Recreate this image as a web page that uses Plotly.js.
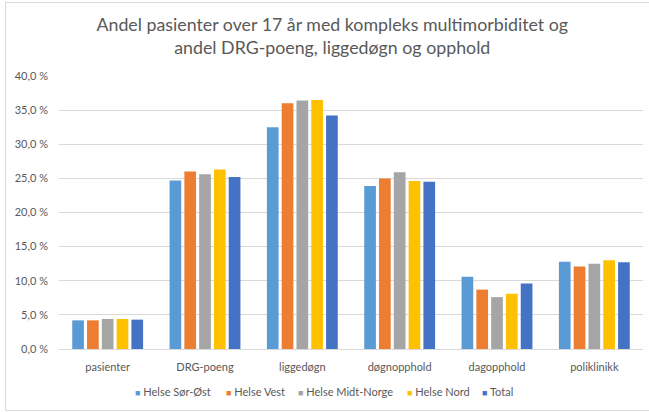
<!DOCTYPE html>
<html>
<head>
<meta charset="utf-8">
<script src="https://cdn.plot.ly/plotly-3.0.1.min.js"></script>
<style>
  html, body { margin: 0; padding: 0; background: #ffffff; }
  #wrap { position: relative; width: 649px; height: 412px; overflow: hidden; }
  #chart { position: absolute; left: 0; top: 0; width: 649px; height: 412px; }
  #frame { position: absolute; left: 5px; top: 2px; width: 700px; height: 407px;
           border: 1px solid #d9d9d9; pointer-events: none; }
</style>
</head>
<body>
<div id="wrap">
  <div id="chart"></div>
  <div id="frame"></div>
</div>
<script>
// ---- data ----
const categories = ["pasienter", "DRG-poeng", "liggedøgn", "døgnopphold", "dagopphold", "poliklinikk"];
const seriesNames = ["Helse Sør-Øst", "Helse Vest", "Helse Midt-Norge", "Helse Nord", "Total"];
const helseSorOst    = [4.2, 24.7, 32.5, 23.9, 10.6, 12.8];
const helseVest      = [4.2, 26.0, 36.0, 25.0, 8.7, 12.1];
const helseMidtNorge = [4.4, 25.6, 36.4, 25.9, 7.6, 12.5];
const helseNord      = [4.4, 26.3, 36.5, 24.6, 8.1, 13.0];
const total          = [4.3, 25.2, 34.2, 24.5, 9.6, 12.7];
const yTicks = [0, 5, 10, 15, 20, 25, 30, 35, 40];
const yTickText = yTicks.map(v => v.toFixed(1).replace(".", ",") + " %");

// ---- styles ----
const colors = ["#5B9BD5", "#ED7D31", "#A5A5A5", "#FFC000", "#4472C4"];
const seriesValues = [helseSorOst, helseVest, helseMidtNorge, helseNord, total];
const fontFamily = "Lato, 'Open Sans', sans-serif";
const textColor = "#595959";

const traces = seriesValues.map((vals, i) => ({
  type: "bar",
  name: seriesNames[i],
  x: categories,
  y: vals,
  marker: { color: colors[i], line: { width: 0 } },
  showlegend: false,
  hoverinfo: "x+y+name"
}));

// legend drawn as text annotations (Excel-style compact legend)
const plotL = 59, plotR = 643, plotW = plotR - plotL;
const legendStartPx = [133, 224, 296, 405, 480];
const legendAnnotations = seriesNames.map((name, i) => ({
  xref: "paper", yref: "paper",
  x: (legendStartPx[i] - plotL) / plotW,
  y: -0.155,
  xanchor: "left", yanchor: "middle",
  showarrow: false,
  text: '<span style="color:' + colors[i] + ';font-size:9px">■</span> ' + name,
  font: { family: fontFamily, size: 11, color: textColor }
}));

const layout = {
  width: 649, height: 412,
  margin: { l: plotL, r: 649 - plotR, t: 76, b: 63, pad: 0 },
  paper_bgcolor: "#ffffff",
  plot_bgcolor: "#ffffff",
  separators: ", ",
  font: { family: fontFamily, size: 11, color: textColor },
  title: {
    text: "Andel pasienter over 17 år med kompleks multimorbiditet og<br>andel DRG-poeng, liggedøgn og opphold",
    font: { family: fontFamily, size: 17.8, color: textColor },
    x: 0.512, xanchor: "center", xref: "container",
    y: 0.925, yanchor: "middle", yref: "container"
  },
  barmode: "group",
  bargap: 0.24,
  bargroupgap: 0.21,
  xaxis: {
    type: "category",
    showgrid: false,
    showline: true,
    linecolor: "#d9d9d9",
    linewidth: 1,
    ticks: "",
    tickfont: { family: fontFamily, size: 11, color: textColor },
    ticklabelstandoff: 8,
    zeroline: false
  },
  yaxis: {
    range: [0, 40],
    tickmode: "array",
    tickvals: yTicks,
    ticktext: yTickText,
    showgrid: true,
    gridcolor: "#d9d9d9",
    gridwidth: 1,
    zeroline: true,
    zerolinecolor: "#d9d9d9",
    zerolinewidth: 1,
    showline: false,
    ticks: "",
    ticklabelstandoff: 10,
    tickfont: { family: fontFamily, size: 11, color: textColor },
    fixedrange: true
  },
  annotations: legendAnnotations
};

Plotly.newPlot("chart", traces, layout, { displayModeBar: false, staticPlot: true });
</script>
</body>
</html>
